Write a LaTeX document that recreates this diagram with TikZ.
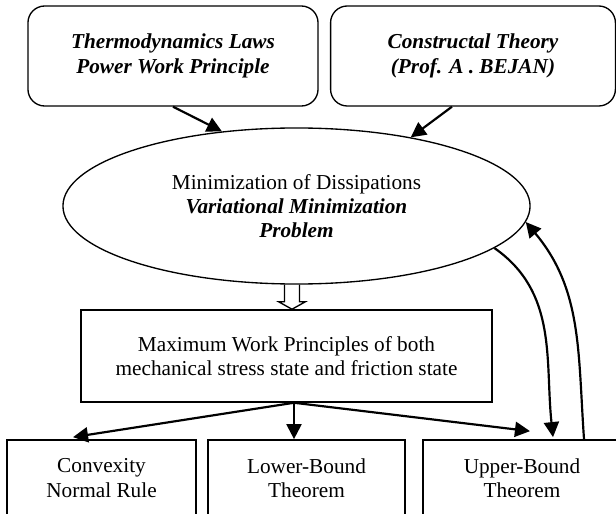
\documentclass[tikz,border=0pt]{standalone}
\usepackage{fontspec}
\setmainfont{Liberation Serif}
\usetikzlibrary{arrows.meta,positioning,calc,shapes.geometric}

\begin{document}
\begin{tikzpicture}[x=.021cm,y=-.021cm,
  every node/.style={font=\fontsize{12.7}{14.5}\selectfont,align=center,inner sep=0pt},
  topbox/.style={draw,line width=.8pt,rounded corners=10pt,minimum height=2.1cm,
    font=\fontsize{12.7}{14.5}\selectfont\bfseries\itshape},
  ovalbox/.style={draw,ellipse,line width=.8pt,minimum width=9.807cm,minimum height=3.276cm},
  plainbox/.style={draw,line width=.9pt,minimum height=1.6cm},
  arr/.style={line width=1.3pt,-{Triangle[length=9pt,width=9pt]}}]
\path[use as bounding box,clip] (0,0) rectangle (616,513);

\node[topbox,minimum width=6.09cm] (tl) at (173,56) {Thermodynamics Laws\\Power Work Principle};
\node[topbox,minimum width=5.98cm] (tr) at (473,56) {Constructal Theory\\(Prof. A . BEJAN)};
\node[ovalbox] (mini) at (296.5,206) {Minimization of Dissipations\\
  \textbf{\textit{Variational Minimization}}\\\textbf{\textit{Problem}}};
\node[plainbox,minimum width=8.631cm,minimum height=1.932cm] (mwp) at (286.5,356)
  {Maximum Work Principles of both\\mechanical stress state and friction state};
\node[plainbox,minimum width=3.969cm] (cnr) at (101.5,478) {Convexity\\Normal Rule};
\node[plainbox,minimum width=4.137cm] (lbt) at (306.5,478) {Lower-Bound\\Theorem};
\node[plainbox,minimum width=4.158cm] (ubt) at (522,478) {Upper-Bound\\Theorem};

\draw[arr] (tl.south) -- (mini.135);
\draw[arr] ($(tr.south)+(-21,0)$) -- (mini.31);

\coordinate (ha) at ($(mini.south)+(-4.5,0)$);
\draw[line width=.8pt] ($(ha)+(-7.5,0)$) -- ++(0,17) -- ++(-6,0) -- (ha |- mwp.north)
  -- ($(ha)+(13.5,17)$) -- ++(-6,0) -- ++(0,-17);

\coordinate (fork) at ($(mwp.south)+(7.5,0)$);
\draw[arr] (fork) -- ($(cnr.north)+(-28.5,-2)$);
\draw[arr] (fork) -- (fork |- lbt.north);
\draw[arr] (fork) -- ($(ubt.north)+(8,-8)$);

\draw[arr] (mini.-12) to[out=-35,in=96] ($(ubt.north)+(31,-2)$);
\draw[arr] ($(ubt.north)+(62,0)$) to[out=94,in=-50] (mini.-4);
\end{tikzpicture}
\end{document}
